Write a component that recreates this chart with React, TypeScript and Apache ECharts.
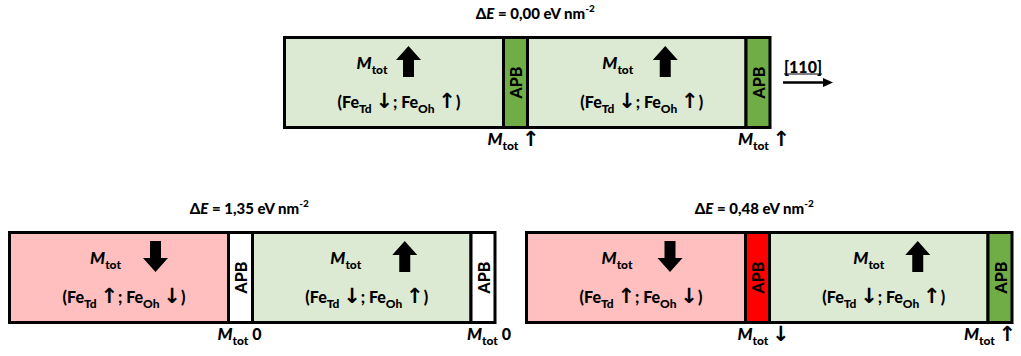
import React, { useEffect, useRef } from "react";
import * as echarts from "echarts";

// ---------------- data ----------------
// Energy difference of each configuration (eV nm^-2)
const panelEnergies = [0.0, 1.35, 0.48];
// Net magnetic moment of each domain in a panel
const domainMoments = [
  ["up", "up"],
  ["down", "up"],
  ["down", "up"],
];
// Net magnetic moment located at each antiphase boundary (APB)
const apbMoments = [
  ["up", "up"],
  ["zero", "zero"],
  ["down", "up"],
];
const directionLabel = "[110]";

// ---------------- layout / style ----------------
const W = 1021;
const H = 356;
const FONT = "Lato, 'DejaVu Sans', sans-serif";
const ARROW_FONT = "'DejaVu Sans', sans-serif";
const panelBox = [
  { x: 284.5, y: 37.5 },
  { x: 9.5, y: 232.5 },
  { x: 526.5, y: 232.5 },
];
const BOX_H = 90;
const segEdges = [0, 219, 243, 461.5, 485.5];
const titleOffsetX = [8, -3, -15];
// per domain: [Mtot text center offset, block arrow center offset] from domain center
const domainTextOffsets = [
  [[-22, 14.5], [-19, 28.5]],
  [[-13.5, 36.5], [-16, 43]],
  [[-19, 34], [-10, 39]],
];
const apbLabelOffsets = [
  [-2, 6],
  [-1, 6],
  [6, -10],
];
const domainColor: Record<string, string> = { up: "#DCEAD3", down: "#FFBFBF" };
const apbColor: Record<string, string> = { up: "#70AD47", zero: "#FFFFFF", down: "#FF0000" };
const arrowChar: Record<string, string> = { up: "\u2191", down: "\u2193" };

const MAIN = 16;
const SUB = 12;
const WEIGHT = 900;

function rich(base: number, sub: number) {
  return {
    b: { fontSize: base, fontWeight: WEIGHT, fontFamily: FONT, lineHeight: 26, fill: "#000" },
    mi: { fontSize: base + 1, fontWeight: WEIGHT, fontStyle: "italic", fontFamily: FONT, lineHeight: 26, fill: "#000" },
    sub: { fontSize: sub, fontWeight: WEIGHT, fontFamily: FONT, lineHeight: 11, verticalAlign: "bottom", fill: "#000" },
    arr: { fontSize: 21, fontWeight: "bold", fontFamily: ARROW_FONT, lineHeight: 26, fill: "#000" },
  };
}

function blockArrow(cx: number, top: number, dir: string) {
  const hw = 12.5, sw = 5.5, hh = 14, len = 31;
  let pts: number[][];
  if (dir === "up") {
    pts = [
      [cx, top], [cx + hw, top + hh], [cx + sw, top + hh], [cx + sw, top + len],
      [cx - sw, top + len], [cx - sw, top + hh], [cx - hw, top + hh],
    ];
  } else {
    const b = top + len;
    pts = [
      [cx, b], [cx + hw, b - hh], [cx + sw, b - hh], [cx + sw, top],
      [cx - sw, top], [cx - sw, b - hh], [cx - hw, b - hh],
    ];
  }
  return { type: "polygon", shape: { points: pts }, style: { fill: "#000" } };
}

export default function App() {
  const ref = useRef<HTMLDivElement>(null);
  useEffect(() => {
    document.body.style.margin = "0";
    if (!ref.current) return;
    const chart = echarts.init(ref.current, undefined, { renderer: "svg" });

    const segData: number[][] = [];
    for (let p = 0; p < panelEnergies.length; p++) {
      for (let s = 0; s < 4; s++) segData.push([p, s]);
    }

    const segRender = (params: any, api: any) => {
      const p = api.value(0);
      const s = api.value(1);
      const box = panelBox[p];
      const [px0, py0] = api.coord([box.x + segEdges[s], box.y]);
      const [px1, py1] = api.coord([box.x + segEdges[s + 1], box.y + BOX_H]);
      const isApb = s % 2 === 1;
      const k = Math.floor(s / 2);
      const children: any[] = [];
      const fill = isApb ? apbColor[apbMoments[p][k]] : domainColor[domainMoments[p][k]];
      children.push({
        type: "rect",
        shape: { x: px0, y: py0, width: px1 - px0, height: py1 - py0 },
        style: { fill, stroke: "#000", lineWidth: 3 },
      });
      const cx = (px0 + px1) / 2;
      if (isApb) {
        children.push({
          type: "text",
          x: cx,
          y: (py0 + py1) / 2,
          rotation: Math.PI / 2,
          style: {
            text: "APB",
            fontSize: MAIN,
            fontWeight: WEIGHT,
            fontFamily: FONT,
            fill: "#000",
            align: "center",
            verticalAlign: "middle",
          },
        });
        const m = apbMoments[p][k];
        const tail = m === "zero" ? "{b| }{b|0}" : `{b| }{arr|${arrowChar[m]}}`;
        children.push({
          type: "text",
          x: cx + apbLabelOffsets[p][k],
          y: py1 + 16 - 5,
          style: {
            text: `{mi|M}{sub|tot}${tail}`,
            rich: rich(MAIN, SUB),
            align: "center",
            verticalAlign: "middle",
          },
        });
      } else {
        const m = domainMoments[p][k];
        const off = domainTextOffsets[p][k];
        children.push({
          type: "text",
          x: cx + off[0],
          y: py0 + 29.5 - 5,
          style: {
            text: "{mi|M}{sub|tot}",
            rich: rich(MAIN, SUB),
            align: "center",
            verticalAlign: "middle",
          },
        });
        children.push(blockArrow(cx + off[1], py0 + 8.5, m));
        const td = m === "up" ? arrowChar.down : arrowChar.up;
        const oh = m === "up" ? arrowChar.up : arrowChar.down;
        children.push({
          type: "text",
          x: cx + 5,
          y: py0 + 68.5 - 5,
          style: {
            text: `{b|(Fe}{sub|Td}{b| }{arr|${td}}{b|; Fe}{sub|Oh}{b| }{arr|${oh}}{b|)}`,
            rich: rich(MAIN, SUB),
            align: "center",
            verticalAlign: "middle",
          },
        });
      }
      return { type: "group", children };
    };

    const titleRender = (params: any, api: any) => {
      const p = api.value(0);
      const e = api.value(1);
      const box = panelBox[p];
      const [cx, cy] = api.coord([box.x + segEdges[4] / 2 + titleOffsetX[p], box.y - 24.5]);
      const val = Number(e).toFixed(2).replace(".", ",");
      return {
        type: "text",
        x: cx,
        y: cy,
        style: {
          text: `{b|\u0394}{i|E}{b| }{b|= ${val} eV nm}{sup|-2}`,
          rich: {
            b: { fontSize: 15, fontWeight: WEIGHT, fontFamily: FONT, lineHeight: 20, fill: "#000" },
            i: { fontSize: 15, fontWeight: WEIGHT, fontStyle: "italic", fontFamily: FONT, lineHeight: 20, fill: "#000" },
            sup: { fontSize: 10, fontWeight: WEIGHT, fontFamily: FONT, lineHeight: 10, verticalAlign: "top", fill: "#000" },
          },
          align: "center",
          verticalAlign: "middle",
        },
      };
    };

    chart.setOption({
      animation: false,
      grid: { left: 0, right: 0, top: 0, bottom: 0 },
      xAxis: { type: "value", min: 0, max: W, show: false },
      yAxis: { type: "value", min: 0, max: H, inverse: true, show: false },
      series: [
        {
          type: "custom",
          clip: false,
          data: segData,
          renderItem: segRender,
          silent: true,
        },
        {
          type: "custom",
          clip: false,
          data: panelEnergies.map((e, i) => [i, e]),
          renderItem: titleRender,
          silent: true,
        },
      ],
      graphic: [
        {
          type: "text",
          x: 803,
          y: 66,
          style: {
            text: directionLabel,
            fontSize: MAIN,
            fontWeight: WEIGHT,
            fontFamily: FONT,
            fill: "#000",
            align: "center",
            verticalAlign: "middle",
          },
        },
        { type: "line", shape: { x1: 784, y1: 74, x2: 822, y2: 74 }, style: { stroke: "#000", lineWidth: 1.2 } },
        { type: "line", shape: { x1: 783, y1: 82.5, x2: 825, y2: 82.5 }, style: { stroke: "#000", lineWidth: 2.5 } },
        { type: "polygon", shape: { points: [[833, 82.5], [823, 78], [823, 87]] }, style: { fill: "#000" } },
      ],
    });
    return () => chart.dispose();
  }, []);
  return <div ref={ref} style={{ width: W, height: H }} />;
}
